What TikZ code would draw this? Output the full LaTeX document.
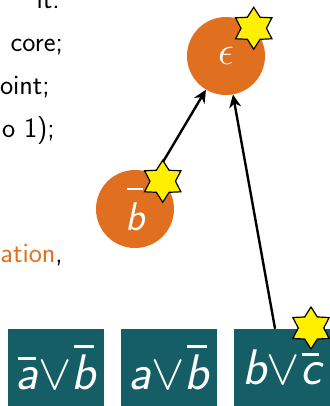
\RequirePackage{fix-cm}
\documentclass[tikz,border=0pt]{standalone}
\usepackage{amsmath,amssymb}
\usepackage{tikz}
\usetikzlibrary{shapes,arrows.meta,positioning}

\definecolor{litorange}{RGB}{224,112,32}
\definecolor{clausegreen}{RGB}{22,94,102}
\definecolor{staryellow}{RGB}{255,240,0}
% negated literal: letter with a bar over it
\newcommand{\nlit}[2][0.82em]{\mbox{\setbox0\hbox{#2}\rlap{\hspace{0.1\wd0}\raisebox{#1}{\rule{0.8\wd0}{0.06em}}}\box0}}

\begin{document}
\begin{tikzpicture}[x=1pt, y=-1pt,
    lit/.style={circle, fill=litorange, text=white, minimum size=78pt, inner sep=0pt, font=\fontsize{40}{44}\selectfont\sffamily\itshape},
    clause/.style={rectangle, fill=clausegreen, text=white, minimum width=96pt, minimum height=77pt, inner sep=0pt, font=\fontsize{50}{56}\selectfont\sffamily\itshape},
    starmark/.style={star, star points=6, star point ratio=1.65, fill=staryellow, draw=black, line width=1.2pt, minimum size=42pt, inner sep=0pt},
    txt/.style={anchor=base east, inner sep=0pt, font=\fontsize{28}{34}\selectfont\sffamily},
    impl/.style={-{Stealth[length=13pt,width=12pt]}, line width=2.4pt}]
    \useasboundingbox (0,0) rectangle (329,406);

    % Text on the left
    \node (t1) [txt] at (60,9) {it:};
    \node (t2) [txt] at (63,52) {core;};
    \node (t3) [txt] at (50,95) {oint;};
    \node (t4) [txt] at (55,138) {o 1);};
    \node (t5) [txt] at (63,262) {\textcolor{litorange}{ation},};

    % Literals
    \node (eps) [lit] at (226,56) {$\epsilon$};
    \node (bnot) [lit] at (135,209) {\nlit[1.0em]{b}};

    % Clauses
    \node (c1) [clause] at (56,367.5) {\nlit[0.58em]{a}$\vee$\nlit{b}};
    \node (c2) [clause] at (169,367.5) {a$\vee$\nlit{b}};
    \node (c3) [clause] at (282,367.5) {b$\vee$\nlit[0.58em]{c}};

    % Implications
    \draw[impl] (bnot) -- (eps);
    \draw[impl] (c3) -- (eps);

    % Stars
    \node (s1) [starmark] at (eps.north east) {};
    \node (s2) [starmark] at (bnot.north east) {};
    \node (s3) [starmark] at (311,328) {};
\end{tikzpicture}
\end{document}
